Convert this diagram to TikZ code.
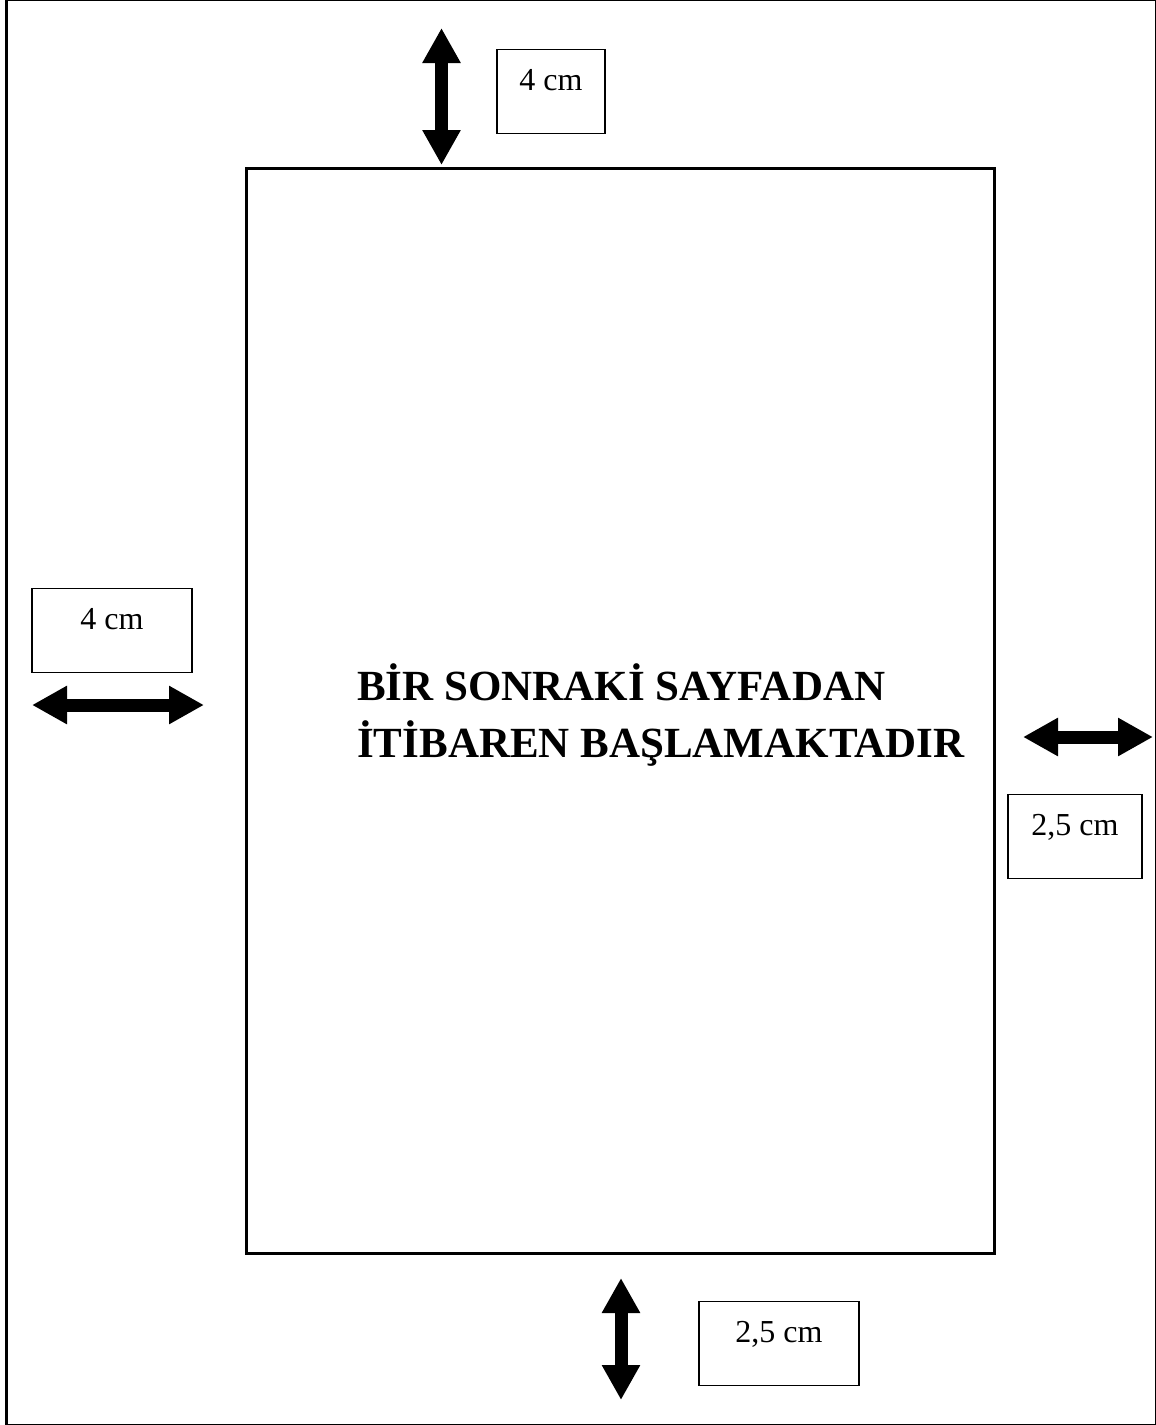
\documentclass[tikz,border=0pt]{standalone}
\usepackage{fontspec}
\setmainfont{Liberation Serif}
\usetikzlibrary{arrows.meta}

\begin{document}
\begin{tikzpicture}[x=1pt,y=-1pt,
   dimbox/.style={draw,line width=1.2pt,inner sep=0pt,minimum width=#1,
                  text height=41pt,text depth=43pt,font=\fontsize{32}{38}\selectfont},
   dimarrow/.style={line width=13pt,>={Triangle[width=36pt,length=35pt]},<->}]
   \useasboundingbox (0,0) rectangle (1156,1425);
   % sheet
   \draw[line width=1pt] (6,0.5) -- (1155,0.5) -- (1155,1424) -- (6,1424);
   \draw[line width=3.5pt] (6.5,0) -- (6.5,1425);
   % text area
   \draw[line width=3pt] (246.5,168) rectangle (994.5,1253);
   \node[anchor=base west,inner sep=0pt,align=left,
         font=\fontsize{43}{57}\selectfont\bfseries] (title) at (357,757)
         {BİR SONRAKİ SAYFADAN\\İTİBAREN BAŞLAMAKTADIR};
   % margins
   \coordinate (topa) at (441.5,28);   \coordinate (topb) at (441.5,165);
   \coordinate (lefta) at (32,705);    \coordinate (leftb) at (204,705);
   \coordinate (righta) at (1023,737); \coordinate (rightb) at (1153,737);
   \coordinate (bota) at (621,1278);   \coordinate (botb) at (621,1400);
   \draw[dimarrow] (topa) -- (topb);
   \draw[dimarrow] (lefta) -- (leftb);
   \draw[dimarrow] (righta) -- (rightb);
   \draw[dimarrow] (bota) -- (botb);
   \node[dimbox=108pt,anchor=north] (topm)   at (551,49)   {4 cm};
   \node[dimbox=160pt,anchor=north] (leftm)  at (112,588)  {4 cm};
   \node[dimbox=134pt,anchor=north] (rightm) at (1075,794) {2,5 cm};
   \node[dimbox=160pt,anchor=north] (botm)   at (779,1301) {2,5 cm};
\end{tikzpicture}
\end{document}
